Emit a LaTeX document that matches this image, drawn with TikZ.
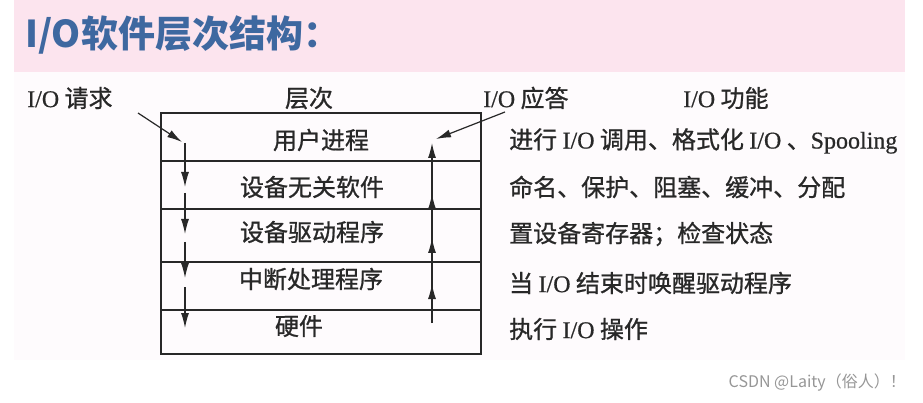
\documentclass[tikz,border=0pt]{standalone}
\usepackage{fontspec}
\setmainfont[FakeBold=0.6]{Liberation Serif}
\newfontfamily\cjk[FakeBold=0.9]{Noto Sans CJK SC}
\newfontfamily\cjktitle{Noto Sans CJK SC}
\newfontfamily\cjkwm{Noto Sans CJK SC}
\usetikzlibrary{arrows.meta}
\definecolor{pinkbg}{RGB}{252,228,238}
\definecolor{panel}{RGB}{254,251,253}
\definecolor{titleblue}{RGB}{62,104,160}
\definecolor{ink}{RGB}{40,40,40}
\definecolor{wm}{RGB}{150,150,150}
\newcommand{\zh}[1]{{\cjk #1}}
\tikzset{
  txt/.style={inner sep=0pt, text=ink, font=\fontsize{24}{24}\selectfont},
  rowlabel/.style={txt, font=\cjk\fontsize{24}{24}\selectfont},
  boxline/.style={draw=ink, line width=1.4pt},
  arr/.style={-{Latex[length=15pt,width=8pt]}, line width=1.2pt, draw=ink},
}
\begin{document}
\begin{tikzpicture}[x=1pt,y=-1pt]
\useasboundingbox (0,0) rectangle (923,403);
\fill[panel] (14,72) rectangle (905,360);
\fill[pinkbg] (14,0) rectangle (905,72);
\node[anchor=west, inner sep=0pt, text=titleblue, font=\cjktitle\bfseries\fontsize{37}{37}\selectfont] (title) at (25,35) {I/O软件层次结构：};

% box
\draw[boxline] (161,113) rectangle (481,354);
\draw[boxline] (161,161) -- (481,161);
\draw[boxline] (161,209) -- (481,209);
\draw[boxline] (161,262) -- (481,262);
\draw[boxline] (161,310) -- (481,310);

\node[rowlabel] (hd) at (309,98) {层次};
\node[rowlabel] (r1) at (321,140) {用户进程};
\node[rowlabel] (r2) at (312,187) {设备无关软件};
\node[rowlabel] (r3) at (312,232) {设备驱动程序};
\node[rowlabel] (r4) at (311,279) {中断处理程序};
\node[rowlabel] (r5) at (299,326) {硬件};

% top labels
\node[txt, anchor=west] (req) at (27,98) {I/O\zh{ 请求}};
\node[txt, anchor=west] (ans) at (483,98) {I/O\zh{ 应答}};
\node[txt, anchor=west] (fun) at (683,98) {I/O\zh{ 功能}};

% functions
\node[txt, anchor=west] (f1) at (509,141) {\zh{进行 }I/O\zh{ 调用、格式化 }I/O\zh{ 、}Spooling};
\node[txt, anchor=west] (f2) at (509,187) {\zh{命名、保护、阻塞、缓冲、分配}};
\node[txt, anchor=west] (f3) at (509,234) {\zh{置设备寄存器；检查状态}};
\node[txt, anchor=west] (f4) at (509,283) {\zh{当 }I/O\zh{ 结束时唤醒驱动程序}};
\node[txt, anchor=west] (f5) at (509,329) {\zh{执行 }I/O\zh{ 操作}};

% request path
\coordinate (qa) at (138,113);
\coordinate (qb) at (182,142);
\draw[arr] (qa) -- (qb);
\coordinate (d0) at (185,143);
\coordinate (d1) at (185,187);
\coordinate (d1s) at (185,193);
\coordinate (d2) at (185,234);
\coordinate (d2s) at (185,242);
\coordinate (d3) at (185,278);
\coordinate (d3s) at (185,287);
\coordinate (d4) at (185,328);
\draw[arr] (d0) -- (d1);
\draw[arr] (d1s) -- (d2);
\draw[arr] (d2s) -- (d3);
\draw[arr] (d3s) -- (d4);

% answer path
\coordinate (u0) at (432,323);
\coordinate (u1) at (432,284);
\coordinate (u1s) at (432,291);
\coordinate (u2) at (432,238);
\coordinate (u2s) at (432,246);
\coordinate (u3) at (432,194);
\coordinate (u3s) at (432,201);
\coordinate (u4) at (432,143);
\draw[arr] (u0) -- (u1);
\draw[arr] (u1s) -- (u2);
\draw[arr] (u2s) -- (u3);
\draw[arr] (u3s) -- (u4);
\coordinate (aa) at (505,112);
\coordinate (ab) at (436,139);
\draw[arr] (aa) -- (ab);

\node[anchor=east, inner sep=0pt, text=wm, font=\cjkwm\fontsize{16}{16}\selectfont] (mark) at (906,383) {CSDN @Laity（俗人）！};
\end{tikzpicture}
\end{document}
